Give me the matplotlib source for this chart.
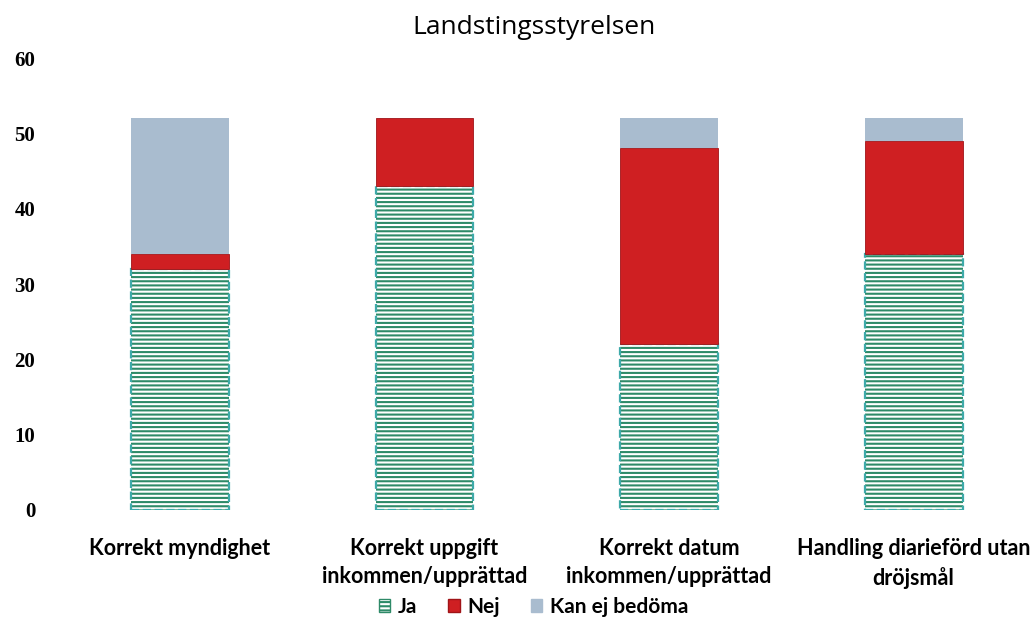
import matplotlib
matplotlib.use('Agg')
import matplotlib.pyplot as plt
from matplotlib.patches import Patch

# Data
kategorier = ['Korrekt myndighet',
              'Korrekt uppgift\ninkommen/upprättad',
              'Korrekt datum\ninkommen/upprättad',
              'Handling diarieförd utan\ndröjsmål']
ja = [32, 43, 22, 34]
nej = [2, 9, 26, 15]
kan_ej = [18, 0, 4, 3]
serier = ['Ja', 'Nej', 'Kan ej bedöma']
y_ticks = [0, 10, 20, 30, 40, 50, 60]

# Colours
ja_linje = '#2e8a68'
ja_kant = '#3eaaaa'
nej_farg = '#cf1f22'
kan_farg = '#a9bccf'

plt.rcParams['hatch.linewidth'] = 1.5

fig = plt.figure(figsize=(10.36, 6.18), dpi=100)
ax = fig.add_axes([0.0555, 0.1748, 0.9445, 0.7313])

x = list(range(len(kategorier)))
bredd = 0.4

# Ja: white with green horizontal lines, dashed teal border
ax.bar(x, ja, bredd, color='white', edgecolor=ja_linje, hatch='----', linewidth=0)
ax.bar(x, ja, bredd, fill=False, edgecolor=ja_kant, linestyle='--', linewidth=1.6)

# Nej
ax.bar(x, nej, bredd, bottom=ja, color=nej_farg, edgecolor='#a01418', linewidth=0.6)

# Kan ej bedöma
botten = [a + b for a, b in zip(ja, nej)]
ax.bar(x, kan_ej, bredd, bottom=botten, color=kan_farg, linewidth=0)

ax.set_xlim(-0.5, len(kategorier) - 0.5)
ax.set_ylim(0, 60)
ax.set_yticks(y_ticks)
ax.set_yticklabels([str(v) for v in y_ticks], family='Liberation Serif',
                   fontweight='bold', fontsize=15)
ax.set_xticks(x)
ax.set_xticklabels(kategorier, family='Lato', fontweight='bold', fontsize=15.5,
                   linespacing=1.45)
ax.tick_params(axis='y', length=0, pad=16)
ax.tick_params(axis='x', length=0, pad=20)
for s in ax.spines.values():
    s.set_visible(False)

fig.text(0.515, 0.955, 'Landstingsstyrelsen', ha='center', va='center',
         family='Open Sans', fontsize=19)

handtag = [
    Patch(facecolor='white', edgecolor=ja_linje, hatch='----', label=serier[0]),
    Patch(facecolor=nej_farg, edgecolor='#a01418', label=serier[1]),
    Patch(facecolor=kan_farg, edgecolor=kan_farg, label=serier[2]),
]
fig.legend(handles=handtag, loc='center', bbox_to_anchor=(0.515, 0.018), ncol=3,
           frameon=False, handlelength=0.55, handleheight=0.55, handletextpad=0.35,
           columnspacing=1.5, prop={'family': 'Lato', 'weight': 'bold', 'size': 15})

fig.savefig('out.png', dpi=100)
